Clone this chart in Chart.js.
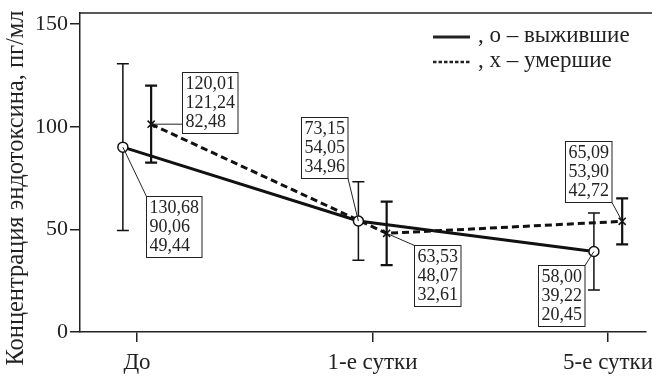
<!DOCTYPE html>
<html>
<head>
<meta charset="utf-8">
<script src="https://cdn.jsdelivr.net/npm/chart.js@4"></script>
<style>
  html, body { margin: 0; padding: 0; background: #fff; }
  #wrap { width: 652px; height: 376px; }
</style>
</head>
<body>
<div id="wrap"><canvas id="chart" width="652" height="376"></canvas></div>
<script>
// ---------- DATA ----------
const categories = ['До', '1-е сутки', '5-е сутки'];
const survMean = [90.06, 54.05, 39.22];
const survHigh = [130.68, 73.15, 58.00];
const survLow = [49.44, 34.96, 20.45];
const diedMean = [101.24, 48.07, 53.90];
const diedHigh = [120.01, 63.53, 65.09];
const diedLow = [82.48, 32.61, 42.72];
const survLabels = [['130,68', '90,06', '49,44'], ['73,15', '54,05', '34,96'], ['58,00', '39,22', '20,45']];
const diedLabels = [['120,01', '121,24', '82,48'], ['63,53', '48,07', '32,61'], ['65,09', '53,90', '42,72']];
const yTicks = [0, 50, 100, 150];
const legendLabels = [', o – выжившие', ', x – умершие'];
const yTitle = 'Концентрация эндотоксина, пг/мл';

// ---------- LAYOUT ----------
const SHIFT = 0.06;           // offset of the two groups around each category
const SERIF = "'Liberation Serif', serif";
// label box placement relative to its point (pixels): box top-left offset + leader corner
const survBoxes = [
  { dx: 23, dy: 49, corner: 'tl' },
  { dx: -57, dy: -104, corner: 'br' },
  { dx: -56, dy: 14, corner: 'tr' }
];
const diedBoxes = [
  { dx: 31, dy: -52, corner: 'l' },
  { dx: 27, dy: 12, corner: 'tl' },
  { dx: -57, dy: -80, corner: 'br' }
];

const survPts = survMean.map((v, i) => ({ x: i - SHIFT, y: v }));
const diedPts = diedMean.map((v, i) => ({ x: i + SHIFT, y: v }));

// ---------- PLUGINS ----------
const errorBars = {
  id: 'errorBars',
  beforeDatasetsDraw(chart) {
    const { ctx, scales: { x, y } } = chart;
    const draw = (lo, hi, off, w) => {
      ctx.save();
      ctx.strokeStyle = '#111';
      ctx.lineWidth = w;
      lo.forEach((l, i) => {
        const px = x.getPixelForValue(i + off);
        const y1 = y.getPixelForValue(l), y2 = y.getPixelForValue(hi[i]);
        ctx.beginPath();
        ctx.moveTo(px, y1); ctx.lineTo(px, y2);
        ctx.moveTo(px - 6, y1); ctx.lineTo(px + 6, y1);
        ctx.moveTo(px - 6, y2); ctx.lineTo(px + 6, y2);
        ctx.stroke();
      });
      ctx.restore();
    };
    draw(survLow, survHigh, -SHIFT, 1.5);
    draw(diedLow, diedHigh, SHIFT, 2.2);
  }
};

const valueBoxes = {
  id: 'valueBoxes',
  afterDatasetsDraw(chart) {
    const { ctx, scales: { x, y } } = chart;
    ctx.save();
    ctx.font = '18px ' + SERIF;
    ctx.textBaseline = 'top';
    const lineH = 19;
    const drawSet = (pts, labels, boxes) => {
      pts.forEach((p, i) => {
        const px = x.getPixelForValue(p.x), py = y.getPixelForValue(p.y);
        const lines = labels[i];
        const w = Math.max(...lines.map(t => ctx.measureText(t).width)) + 6;
        const h = lines.length * lineH + 4;
        const bx = Math.round(px + boxes[i].dx) + 0.5, by = Math.round(py + boxes[i].dy) + 0.5;
        let cx, cy;
        switch (boxes[i].corner) {
          case 'tl': cx = bx; cy = by; break;
          case 'tr': cx = bx + w; cy = by; break;
          case 'br': cx = bx + w; cy = by + h; break;
          default: cx = bx; cy = py;
        }
        ctx.strokeStyle = '#222';
        ctx.lineWidth = 1;
        ctx.beginPath(); ctx.moveTo(px, py); ctx.lineTo(cx, cy); ctx.stroke();
        ctx.fillStyle = '#fff';
        ctx.fillRect(bx, by, w, h);
        ctx.strokeRect(bx, by, w, h);
        ctx.fillStyle = '#222';
        lines.forEach((t, k) => ctx.fillText(t, bx + 3, by + 3 + k * lineH));
      });
    };
    drawSet(survPts, survLabels, survBoxes);
    drawSet(diedPts, diedLabels, diedBoxes);
    ctx.restore();
  }
};

const frameAndLegend = {
  id: 'frameAndLegend',
  afterDraw(chart) {
    const { ctx, chartArea } = chart;
    ctx.save();
    // top frame line
    ctx.strokeStyle = '#222';
    ctx.lineWidth = 1.5;
    ctx.beginPath();
    ctx.moveTo(chartArea.left, chartArea.top);
    ctx.lineTo(chart.width, chartArea.top);
    ctx.stroke();
    // legend
    const lx = 433, ly = [37, 62];
    ctx.lineWidth = 3;
    ctx.beginPath(); ctx.moveTo(lx, ly[0]); ctx.lineTo(lx + 37, ly[0]); ctx.stroke();
    ctx.lineWidth = 2.5;
    ctx.setLineDash([3.5, 2]);
    ctx.beginPath(); ctx.moveTo(lx, ly[1]); ctx.lineTo(lx + 37, ly[1]); ctx.stroke();
    ctx.setLineDash([]);
    ctx.fillStyle = '#222';
    ctx.font = '23px ' + SERIF;
    ctx.textBaseline = 'middle';
    legendLabels.forEach((t, i) => ctx.fillText(t, lx + 45, ly[i] - 1));
    // y axis title
    ctx.translate(17, 188);
    ctx.rotate(-Math.PI / 2);
    ctx.font = '24.5px ' + SERIF;
    ctx.textAlign = 'center';
    ctx.fillText(yTitle, 0, 0);
    ctx.restore();
  }
};

// ---------- CHART ----------
new Chart(document.getElementById('chart').getContext('2d'), {
  type: 'line',
  data: {
    datasets: [
      {
        label: 'выжившие', data: survPts,
        borderColor: '#111', borderWidth: 3, tension: 0,
        pointStyle: 'circle', pointRadius: 5, pointBackgroundColor: '#fff',
        pointBorderColor: '#111', pointBorderWidth: 1.5
      },
      {
        label: 'умершие', data: diedPts,
        borderColor: '#111', borderWidth: 3, borderDash: [7, 4], tension: 0,
        pointStyle: 'crossRot', pointRadius: 5,
        pointBorderColor: '#111', pointBorderWidth: 1.5
      }
    ]
  },
  options: {
    responsive: false,
    animation: false,
    layout: { padding: { top: 13, right: 0, left: 0, bottom: 0 } },
    plugins: { legend: { display: false }, tooltip: { enabled: false } },
    scales: {
      x: {
        type: 'linear', min: -0.242, max: 2.159,
        afterBuildTicks: s => { s.ticks = categories.map((c, i) => ({ value: i })); },
        afterFit: s => { s.height = 44; s.paddingLeft = 0; s.paddingRight = 0; },
        ticks: { callback: v => categories[v], color: '#222', padding: 7, maxRotation: 0, font: { family: SERIF, size: 23 } },
        grid: { drawOnChartArea: false, tickLength: 10, color: '#222', lineWidth: 1.5 },
        border: { color: '#222', width: 1.5 }
      },
      y: {
        min: 0, max: 155.4,
        afterBuildTicks: s => { s.ticks = yTicks.map(v => ({ value: v })); },
        afterFit: s => { s.width = 80; s.paddingTop = 0; s.paddingBottom = 0; },
        ticks: { color: '#222', padding: 2, font: { family: SERIF, size: 22 } },
        grid: { drawOnChartArea: false, tickLength: 10, color: '#222', lineWidth: 1.5 },
        border: { color: '#222', width: 1.5 }
      }
    }
  },
  plugins: [errorBars, valueBoxes, frameAndLegend]
});
</script>
</body>
</html>
